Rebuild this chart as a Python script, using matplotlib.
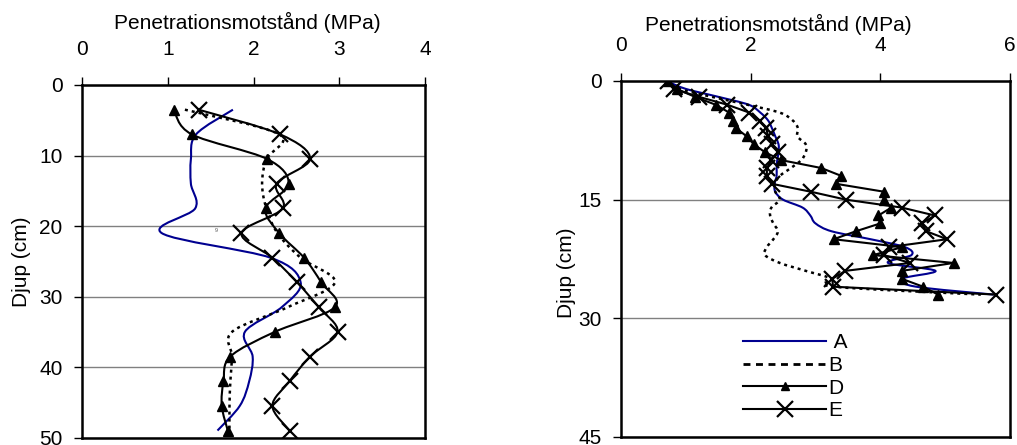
import matplotlib
matplotlib.use('Agg')
import matplotlib.pyplot as plt
from matplotlib.path import Path
from matplotlib.patches import PathPatch
from matplotlib.lines import Line2D
import numpy as np

plt.rcParams['font.family'] = ['Liberation Sans', 'DejaVu Sans']

# ---------------- data: left profile ----------------
depth_left = [3.5, 7, 10.5, 14, 17.5, 21, 24.5, 28, 31.5, 35, 38.5, 42, 45.5, 49]
A_left = [1.76, 1.33, 1.27, 1.27, 1.32, 0.93, 2.20, 2.55, 2.33, 1.90, 1.99, 1.95, 1.84, 1.58]
B_left = [1.20, 2.30, 2.15, 2.10, 2.15, 2.28, 2.55, 2.95, 2.40, 1.75, 1.75, 1.73, 1.72, 1.72]
D_left = [1.07, 1.28, 2.16, 2.41, 2.14, 2.30, 2.59, 2.79, 2.95, 2.25, 1.73, 1.65, 1.63, 1.70]
E_left = [1.36, 2.31, 2.66, 2.27, 2.34, 1.86, 2.22, 2.51, 2.76, 2.98, 2.66, 2.42, 2.22, 2.42]

# ---------------- data: right profile ----------------
depth_right = [0, 1, 2, 3, 4, 5, 6, 7, 8, 9, 10, 11, 12, 13,
               14, 15, 16, 17, 18, 19, 20, 21, 22, 23, 24, 25, 26, 27]
A_right = [0.70, 1.00, 1.50, 1.97, 2.15, 2.27, 2.33, 2.38, 2.43, 2.43, 2.41, 2.40, 2.40, 2.37,
           2.38, 2.50, 2.80, 2.92, 3.00, 3.25, 3.85, 4.38, 4.48, 4.12, 4.85, 4.33, 4.55, 5.75]
B_right = [0.70, 0.90, 1.40, 1.95, 2.45, 2.65, 2.73, 2.72, 2.85, 2.85, 2.78, 2.62, 2.45, 2.37,
           2.38, 2.45, 2.32, 2.30, 2.35, 2.42, 2.35, 2.25, 2.22, 2.45, 2.85, 3.25, 3.28, 5.55]
D_right = [0.72, 0.86, 1.14, 1.46, 1.67, 1.73, 1.78, 1.94, 2.05, 2.22, 2.47, 3.09, 3.40, 3.32,
           4.06, 4.05, 4.17, 3.97, 4.00, 3.62, 3.28, 4.34, 3.89, 5.13, 4.33, 4.33, 4.66, 4.89]
E_right = [0.72, 0.81, 1.20, 1.64, 1.98, 2.14, 2.24, 2.27, 2.33, 2.42, 2.32, 2.25, 2.25, 2.33,
           2.93, 3.47, 4.33, 4.84, 4.64, 4.71, 5.03, 4.13, 4.05, 4.46, 3.46, 3.26, 3.27, 5.79]

series_labels = [' A', 'B', 'D', 'E']
xlabel = 'Penetrationsmotstånd (MPa)'
ylabel = 'Djup (cm)'
left_xticks = [0, 1, 2, 3, 4]
left_yticks = [0, 10, 20, 30, 40, 50]
right_xticks = [0, 2, 4, 6]
right_yticks = [0, 15, 30, 45]

BLUE = '#000090'
FS = 15


def smooth_path(xs, ys):
    xs = np.asarray(xs, float)
    ys = np.asarray(ys, float)
    n = len(xs)
    verts = [(xs[0], ys[0])]
    codes = [Path.MOVETO]
    for i in range(n - 1):
        i0 = max(i - 1, 0)
        i3 = min(i + 2, n - 1)
        c1 = (xs[i] + (xs[i + 1] - xs[i0]) / 6, ys[i] + (ys[i + 1] - ys[i0]) / 6)
        c2 = (xs[i + 1] - (xs[i3] - xs[i]) / 6, ys[i + 1] - (ys[i3] - ys[i]) / 6)
        verts += [c1, c2, (xs[i + 1], ys[i + 1])]
        codes += [Path.CURVE4] * 3
    return Path(verts, codes)


def add_smooth(ax, xs, ys, **kw):
    p = PathPatch(smooth_path(xs, ys), fill=False, transform=ax.transData, **kw)
    ax.add_patch(p)


def style_axes(ax, xlim, ylim, xticks, yticks):
    ax.set_xlim(*xlim)
    ax.set_ylim(ylim[1], ylim[0])
    ax.set_xticks(xticks)
    ax.set_yticks(yticks)
    ax.xaxis.tick_top()
    ax.tick_params(axis='x', direction='out', length=6, width=1, pad=13, labelsize=FS)
    ax.tick_params(axis='y', direction='out', length=6, width=1, pad=8, labelsize=FS)
    for s in ax.spines.values():
        s.set_linewidth(1.8)
        s.set_color('black')
    ax.yaxis.grid(True, color='#808080', lw=1.0)
    ax.set_axisbelow(True)


fig = plt.figure(figsize=(10.17, 4.45), dpi=100)
axL = fig.add_axes([82 / 1017, 1 - 437.6 / 445, (425 - 82) / 1017, (437.6 - 85) / 445])
axR = fig.add_axes([621 / 1017, 1 - 437 / 445, (1010 - 621) / 1017, (437 - 81) / 445])

# ---- left ----
style_axes(axL, (0, 4), (0, 50), left_xticks, left_yticks)
add_smooth(axL, A_left, depth_left, color=BLUE, lw=1.5, zorder=3)
add_smooth(axL, B_left, depth_left, color='black', lw=1.8, linestyle=(0, (1.2, 1.6)), zorder=3)
add_smooth(axL, D_left, depth_left, color='black', lw=1.5, zorder=4)
axL.plot(D_left, depth_left, linestyle='none', marker='^', color='black', ms=7, zorder=5)
add_smooth(axL, E_left, depth_left, color='black', lw=1.5, zorder=4)
axL.plot(E_left, depth_left, linestyle='none', marker='x', color='black', ms=11, mew=1.6, zorder=5)
axL.text(1.57, 20.7, '9', fontsize=4, color='#555555', ha='center', va='center')

axL.set_xlabel(xlabel, fontsize=FS)
axL.xaxis.set_label_position('top')
axL.xaxis.set_label_coords(0.481, 1.176)
axL.xaxis.label.set_verticalalignment('center')
axL.set_ylabel(ylabel, fontsize=FS)
axL.yaxis.set_label_coords(-0.175, 0.498)
axL.yaxis.label.set_verticalalignment('center')

# ---- right ----
style_axes(axR, (0, 6), (0, 45), right_xticks, right_yticks)
add_smooth(axR, A_right, depth_right, color=BLUE, lw=1.5, zorder=3)
add_smooth(axR, B_right, depth_right, color='black', lw=1.8, linestyle=(0, (1.2, 1.6)), zorder=3)
axR.plot(D_right, depth_right, color='black', lw=1.5, marker='^', ms=7, zorder=4)
axR.plot(E_right, depth_right, color='black', lw=1.5, marker='x', ms=11, mew=1.6, zorder=5)

axR.set_xlabel(xlabel, fontsize=FS)
axR.xaxis.set_label_position('top')
axR.xaxis.set_label_coords(0.404, 1.160)
axR.xaxis.label.set_verticalalignment('center')
axR.set_ylabel(ylabel, fontsize=FS)
axR.yaxis.set_label_coords(-0.139, 0.46)
axR.yaxis.label.set_verticalalignment('center')

handles = [
    Line2D([], [], color=BLUE, lw=1.5),
    Line2D([], [], color='black', lw=2.0, linestyle=(0, (2.5, 2.0))),
    Line2D([], [], color='black', lw=1.5, marker='^', ms=6),
    Line2D([], [], color='black', lw=1.5, marker='x', ms=11, mew=1.6),
]
axR.legend(handles, series_labels, loc='center left', bbox_to_anchor=(0.314, 0.169),
           frameon=False, fontsize=FS, handlelength=4.0, handletextpad=0.1,
           labelspacing=0.18, borderpad=0, borderaxespad=0, numpoints=1)

fig.savefig('out.png', dpi=100)
